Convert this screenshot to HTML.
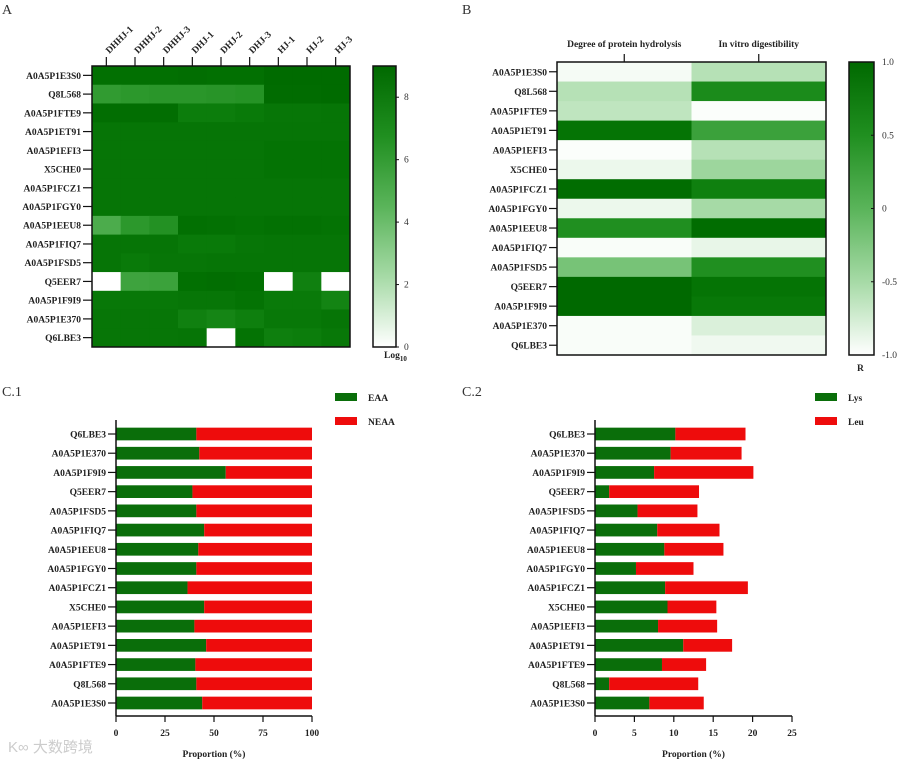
<!DOCTYPE html>
<html><head><meta charset="utf-8">
<style>
html,body{margin:0;padding:0;background:#fff;}
svg{display:block;font-family:"Liberation Serif",serif;}
.lbl{font-size:9.5px;font-weight:bold;fill:#222;}
.tk{font-size:9.5px;fill:#333;}
</style></head>
<body>
<svg id="fig" width="900" height="763" viewBox="0 0 900 763" xmlns="http://www.w3.org/2000/svg">
<text x="2" y="14" font-size="14" fill="#333">A</text>
<text x="462" y="14" font-size="14" fill="#333">B</text>
<text x="2" y="396" font-size="14" fill="#333">C.1</text>
<text x="462" y="396" font-size="14" fill="#333">C.2</text>
<text x="8" y="752" font-size="15" fill="#ccc" font-family="'Liberation Sans','Noto Sans CJK SC',sans-serif">K∞ 大数跨境</text>
<g id="gA"></g><g id="gB"></g><g id="gC1"></g><g id="gC2"></g>
</svg>
<script>
const proteinsHeat = ["A0A5P1E3S0","Q8L568","A0A5P1FTE9","A0A5P1ET91","A0A5P1EFI3","X5CHE0","A0A5P1FCZ1","A0A5P1FGY0","A0A5P1EEU8","A0A5P1FIQ7","A0A5P1FSD5","Q5EER7","A0A5P1F9I9","A0A5P1E370","Q6LBE3"];
const samplesA = ["DHHJ-1","DHHJ-2","DHHJ-3","DHJ-1","DHJ-2","DHJ-3","HJ-1","HJ-2","HJ-3"];
const valuesA = [
[8.6,8.6,8.6,8.7,8.6,8.6,8.9,8.9,8.9],
[6.0,6.2,6.3,6.3,6.4,6.5,8.8,8.8,8.9],
[8.7,8.7,8.7,7.8,7.8,8.0,8.2,8.2,8.3],
[8.3,8.3,8.3,8.3,8.3,8.3,8.3,8.3,8.3],
[8.3,8.3,8.3,8.3,8.3,8.3,8.4,8.4,8.4],
[8.3,8.3,8.3,8.3,8.3,8.3,8.4,8.4,8.4],
[8.3,8.3,8.3,8.3,8.3,8.3,8.3,8.3,8.3],
[8.3,8.3,8.3,8.3,8.3,8.3,8.3,8.3,8.3],
[5.0,6.2,6.6,8.6,8.5,8.4,8.5,8.5,8.4],
[8.3,8.3,8.3,8.0,8.0,8.2,8.3,8.3,8.3],
[8.3,8.0,8.2,8.2,8.3,8.3,8.3,8.3,8.3],
[0,5.5,5.6,8.6,8.7,8.6,0,7.6,0],
[8.1,8.1,8.1,8.2,8.2,8.4,8.0,8.0,7.4],
[8.2,8.2,8.2,7.6,7.3,7.7,8.1,8.1,8.3],
[8.2,8.2,8.2,8.3,0,8.4,7.7,7.8,8.1]];
const ticksA = [0,2,4,6,8];
const columnsB = ["Degree of protein hydrolysis","In vitro digestibility"];
const hydrolysisR = [-0.95,-0.6,-0.65,0.85,-0.98,-0.9,0.95,-0.9,0.5,-0.97,-0.2,1.0,1.0,-0.97,-0.97];
const digestR = [-0.6,0.55,-0.98,0.25,-0.6,-0.45,0.7,-0.5,0.95,-0.88,0.5,0.85,0.8,-0.8,-0.92];
const ticksB = [1.0,0.5,0,-0.5,-1.0];
const proteinsBar = ["Q6LBE3","A0A5P1E370","A0A5P1F9I9","Q5EER7","A0A5P1FSD5","A0A5P1FIQ7","A0A5P1EEU8","A0A5P1FGY0","A0A5P1FCZ1","X5CHE0","A0A5P1EFI3","A0A5P1ET91","A0A5P1FTE9","Q8L568","A0A5P1E3S0"];
const eaa = [41,42.5,56,39,41,45,42,41,36.5,45,40,46,40.5,41,44];
const neaa = [59,57.5,44,61,59,55,58,59,63.5,55,60,54,59.5,59,56];
const lys = [10.2,9.6,7.5,1.8,5.4,7.9,8.8,5.2,8.9,9.2,8.0,11.2,8.5,1.8,6.9];
const leu = [8.9,9.0,12.6,11.4,7.6,7.9,7.5,7.3,10.5,6.2,7.5,6.2,5.6,11.3,6.9];
const ticksC1 = [0,25,50,75,100];
const ticksC2 = [0,5,10,15,20,25];

const NS="http://www.w3.org/2000/svg";
function mk(parent,tag,attrs,text){const e=document.createElementNS(NS,tag);for(const k in attrs)e.setAttribute(k,attrs[k]);if(text!==undefined)e.textContent=text;parent.appendChild(e);return e;}
function green(t){t=Math.max(0,Math.min(1,t));const r=Math.round(255*Math.pow(1-t,1.5)),g=Math.round(255-150*t);return `rgb(${r},${g},${r})`;}

// Panel A
(function(){
const g=document.getElementById('gA');
const x0=92,x1=350,y0=66,y1=347,vmax=9;
const cw=(x1-x0)/samplesA.length,rh=(y1-y0)/proteinsHeat.length;
const xA=i=>x0+i*cw, yA=j=>y0+j*rh;
valuesA.forEach((row,j)=>row.forEach((v,i)=>{
 const r=mk(g,'rect',{x:xA(i),y:yA(j),width:cw+0.5,height:rh+0.5,fill:green(v/vmax)});
 
 
}));
mk(g,'rect',{x:x0,y:y0,width:x1-x0,height:y1-y0,fill:'none',stroke:'#111','stroke-width':1.5});
proteinsHeat.forEach((p,j)=>{const yc=yA(j)+rh/2;
 mk(g,'line',{x1:x0-9,x2:x0,y1:yc,y2:yc,stroke:'#111','stroke-width':1.2});
 const t=mk(g,'text',{x:x0-11,y:yc+3.5,'text-anchor':'end',class:'lbl'},p);
 
 
});
samplesA.forEach((s,i)=>{const xc=xA(i)+cw/2;
 mk(g,'line',{x1:xc,x2:xc,y1:y0-9,y2:y0,stroke:'#111','stroke-width':1.2});
 const t=mk(g,'text',{x:xc+3,y:y0-12,class:'lbl',transform:`rotate(-45 ${xc+3} ${y0-12})`},s);
 
 
});
const cx=373,cwid=23;
const grad=mk(g,'linearGradient',{id:'gradA',x1:0,y1:1,x2:0,y2:0});
[0,0.25,0.5,0.75,1].forEach(o=>mk(grad,'stop',{offset:o,'stop-color':green(o)}));
const cb=mk(g,'rect',{x:cx,y:y0,width:cwid,height:y1-y0,fill:'url(#gradA)',stroke:'#111','stroke-width':1.5});


const yc=v=>y1-(v/vmax)*(y1-y0);
ticksA.forEach(v=>{mk(g,'line',{x1:cx+cwid,x2:cx+cwid+3,y1:yc(v),y2:yc(v),stroke:'#111'});
 const t=mk(g,'text',{x:cx+cwid+8,y:yc(v)+3,class:'tk','font-size':9},String(v));
 
 
});
const lg=mk(g,'text',{x:384,y:358,class:'lbl','font-size':11},'Log');
mk(lg,'tspan',{'font-size':7,dy:3},'10');


})();

// Panel B
(function(){
const g=document.getElementById('gB');
const x0=557,x1=826,y0=62,y1=355;
const cw=(x1-x0)/2,rh=(y1-y0)/proteinsHeat.length;
const yB=j=>y0+j*rh, col=v=>green((v+1)/2);
[hydrolysisR,digestR].forEach((arr,i)=>arr.forEach((v,j)=>{
 const r=mk(g,'rect',{x:x0+i*cw,y:yB(j),width:cw+0.5,height:rh+0.5,fill:col(v)});
 
 
}));
mk(g,'rect',{x:x0,y:y0,width:x1-x0,height:y1-y0,fill:'none',stroke:'#111','stroke-width':1.5});
proteinsHeat.forEach((p,j)=>{const yc=yB(j)+rh/2;
 mk(g,'line',{x1:x0-8,x2:x0,y1:yc,y2:yc,stroke:'#111','stroke-width':1.2});
 const t=mk(g,'text',{x:x0-10,y:yc+3.5,'text-anchor':'end',class:'lbl'},p);
 
 
});
columnsB.forEach((c,i)=>{const xc=x0+i*cw+cw/2;
 mk(g,'line',{x1:xc,x2:xc,y1:y0-8,y2:y0,stroke:'#111','stroke-width':1.2});
 const t=mk(g,'text',{x:xc,y:y0-15,'text-anchor':'middle',class:'lbl','font-size':9},c);
 
 
});
const cx=849,cwid=25;
const grad=mk(g,'linearGradient',{id:'gradB',x1:0,y1:1,x2:0,y2:0});
[0,0.25,0.5,0.75,1].forEach(o=>mk(grad,'stop',{offset:o,'stop-color':green(o)}));
const cb=mk(g,'rect',{x:cx,y:y0,width:cwid,height:y1-y0,fill:'url(#gradB)',stroke:'#111','stroke-width':1.5});


const yc=v=>y1-((v+1)/2)*(y1-y0);
ticksB.forEach(v=>{mk(g,'line',{x1:cx+cwid-3,x2:cx+cwid,y1:yc(v),y2:yc(v),stroke:'#111'});
 const t=mk(g,'text',{x:cx+cwid+8,y:yc(v)+3,class:'tk','font-size':9},v===0?'0':v.toFixed(1));
 
 
});
const r=mk(g,'text',{x:857,y:371,class:'lbl','font-size':11},'R');


})();

// Stacked bar charts
function stacked(gid,x0,x1,vmax,ticks,s1,s2,names,legX){
const g=document.getElementById(gid);
const yTop=434,yBot=703,bh=12.7,axisY=716;
const sx=v=>x0+(v/vmax)*(x1-x0);
const step=(yBot-yTop)/(proteinsBar.length-1);
const yc=j=>yTop+j*step;
proteinsBar.forEach((p,j)=>{
 const a=s1[j],b=s2[j];
 const r1=mk(g,'rect',{x:sx(0),y:yc(j)-bh/2,width:sx(a)-sx(0),height:bh,fill:'#0a6e0a'});
 
 
 const r2=mk(g,'rect',{x:sx(a),y:yc(j)-bh/2,width:sx(a+b)-sx(a),height:bh,fill:'#ee0c0c'});
 
 
 mk(g,'line',{x1:x0-8,x2:x0,y1:yc(j),y2:yc(j),stroke:'#111','stroke-width':1.2});
 const t=mk(g,'text',{x:x0-10,y:yc(j)+3.5,'text-anchor':'end',class:'lbl'},p);
 
 
});
mk(g,'line',{x1:x0,x2:x0,y1:420,y2:axisY,stroke:'#111','stroke-width':1.5});
mk(g,'line',{x1:x0,x2:x1,y1:axisY,y2:axisY,stroke:'#111','stroke-width':1.5});
ticks.forEach(v=>{mk(g,'line',{x1:sx(v),x2:sx(v),y1:axisY,y2:axisY+6,stroke:'#111','stroke-width':1.2});
 const t=mk(g,'text',{x:sx(v),y:axisY+20,'text-anchor':'middle',class:'lbl'},String(v));
 
 
});
const xt=mk(g,'text',{x:(x0+x1)/2,y:757,'text-anchor':'middle',class:'lbl','font-size':11},'Proportion (%)');


[['#0a6e0a',names[0],397],['#ee0c0c',names[1],421]].forEach(([c,n,y])=>{
 const s=mk(g,'rect',{x:legX,y:y-4,width:22,height:8,fill:c});
 
 
 const t=mk(g,'text',{x:legX+33,y:y+4,class:'lbl','font-size':11},n);
 
 
});
}
stacked('gC1',116,312,100,ticksC1,eaa,neaa,['EAA','NEAA'],335);
stacked('gC2',595,792,25,ticksC2,lys,leu,['Lys','Leu'],815);
</script>
</body></html>
